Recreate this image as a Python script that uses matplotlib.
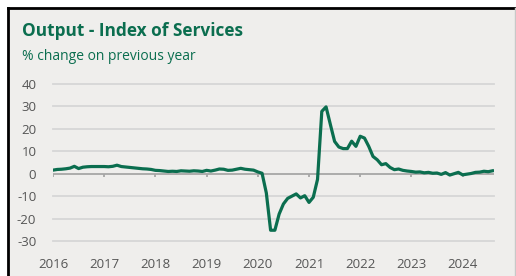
import matplotlib.pyplot as plt
from matplotlib.patches import Rectangle
from matplotlib.lines import Line2D

plt.rcParams['axes.unicode_minus'] = False

# monthly values, Jan 2016 - Aug 2024 (% change on previous year)
v2016 = [1.6, 1.9, 2.0, 2.2, 2.5, 3.3, 2.3, 2.9, 3.1, 3.2, 3.2, 3.2]
v2017 = [3.2, 3.1, 3.3, 3.8, 3.2, 3.0, 2.8, 2.6, 2.4, 2.2, 2.1, 1.9]
v2018 = [1.5, 1.4, 1.2, 1.0, 1.1, 1.0, 1.3, 1.2, 1.1, 1.3, 1.2, 1.0]
v2019 = [1.5, 1.2, 1.6, 2.1, 2.0, 1.5, 1.6, 2.0, 2.4, 2.0, 1.8, 1.6]
v2020 = [0.8, 0.2, -8.6, -25.2, -25.2, -18.0, -13.5, -11.0, -10.0, -9.0, -10.8, -9.8]
v2021 = [-12.8, -10.5, -2.5, 27.8, 29.8, 22.0, 14.4, 11.9, 11.2, 11.2, 14.5, 12.2]
v2022 = [16.7, 15.9, 12.2, 7.7, 6.2, 4.0, 4.5, 2.8, 1.8, 2.1, 1.5, 1.2]
v2023 = [1.0, 0.7, 0.8, 0.4, 0.6, 0.2, 0.3, -0.3, 0.5, -0.6, 0.0, 0.6]
v2024 = [-0.5, -0.2, 0.1, 0.6, 0.7, 1.1, 0.9, 1.3]

values = v2016 + v2017 + v2018 + v2019 + v2020 + v2021 + v2022 + v2023 + v2024
dates = [2016 + m / 12 for m in range(len(values))]

years = [2016, 2017, 2018, 2019, 2020, 2021, 2022, 2023, 2024]
yticks = [-30, -20, -10, 0, 10, 20, 30, 40]

title = 'Output - Index of Services'
subtitle = '% change on previous year'

green = '#0b6e4f'
bg = '#efeeec'

fig = plt.figure(figsize=(5.16, 2.76), dpi=100)
fig.patch.set_facecolor('white')

# panel with black frame on top and left
fig.patches.append(Rectangle((7 / 516, 0), 509 / 516, 269 / 276, transform=fig.transFigure,
                             facecolor=bg, edgecolor='none', zorder=-5))
fig.lines.append(Line2D([8 / 516, 8 / 516], [0, 268 / 276], transform=fig.transFigure,
                        color='black', lw=2.0, zorder=-4))
fig.lines.append(Line2D([8 / 516, 1], [268 / 276, 268 / 276], transform=fig.transFigure,
                        color='black', lw=2.0, zorder=-4))
fig.lines.append(Line2D([515 / 516, 515 / 516], [0, 268 / 276], transform=fig.transFigure,
                        color='#c8c8c8', lw=1.0, zorder=-4))

fig.text(22 / 516, 1 - 31 / 276, title, fontsize=12.4, fontweight='bold', color=green,
         family='Open Sans', va='center', ha='left')
fig.text(22 / 516, 1 - 57 / 276, subtitle, fontsize=10, color=green,
         family='Open Sans', va='center', ha='left')

ax = fig.add_axes([53 / 516, 35 / 276, 441 / 516, 157 / 276])
ax.set_facecolor('none')
ax.set_xlim(2016, 2016 + 441 / 51.2)
ax.set_ylim(-30, 40)

for t in yticks:
    if t == 0:
        continue
    ax.axhline(t, color='#d6d6d6', lw=1.3, zorder=1, clip_on=False)
ax.axhline(0, color='#a6a6a6', lw=1.3, zorder=2)
ax.vlines(years, -1.4, 0, color='#a6a6a6', lw=1.3, zorder=2)

ax.plot(dates, values, color=green, lw=2.3, zorder=3, solid_joinstyle='round')

for s in ax.spines.values():
    s.set_visible(False)
ax.set_xticks(years)
ax.set_xticklabels([str(y) for y in years])
ax.set_yticks(yticks)
ax.tick_params(length=0, labelsize=9.5, labelcolor='#555555')
ax.tick_params(axis='x', pad=12)
ax.tick_params(axis='y', pad=12)
for lab in ax.get_xticklabels() + ax.get_yticklabels():
    lab.set_family('Open Sans')

fig.savefig('out.png', dpi=100, facecolor=fig.get_facecolor())
